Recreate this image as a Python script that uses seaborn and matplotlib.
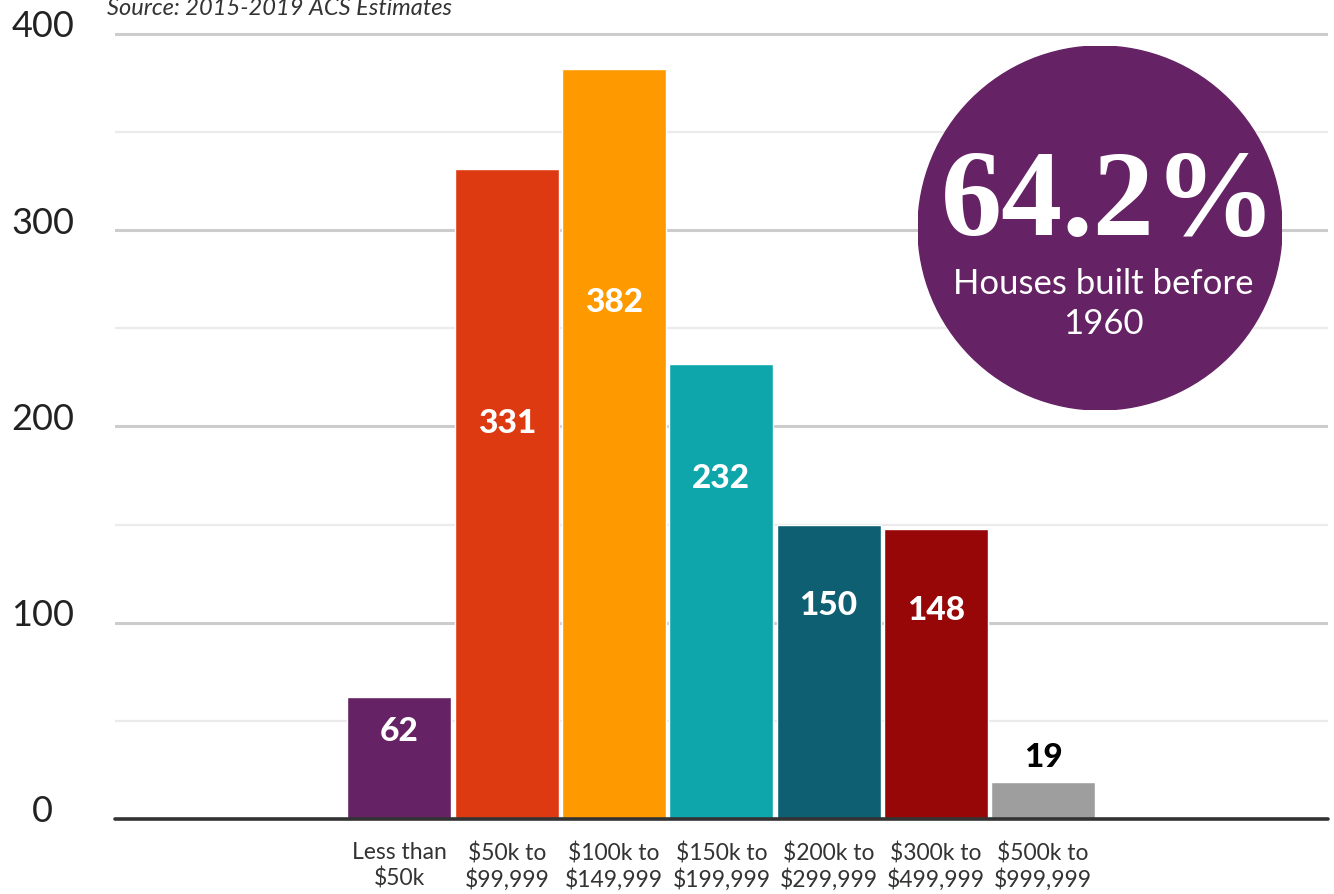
import matplotlib
matplotlib.use("Agg")
import matplotlib.pyplot as plt
import matplotlib.transforms as mtransforms
from matplotlib.patches import Circle
import pandas as pd
import seaborn as sns

# data
categories = ["Less than\n$50k", "$50k to\n$99,999", "$100k to\n$149,999",
              "$150k to\n$199,999", "$200k to\n$299,999", "$300k to\n$499,999",
              "$500k to\n$999,999"]
counts = [62, 331, 382, 232, 150, 148, 19]
bar_colors = ["#652264", "#de3a12", "#fe9a00", "#0ea6aa", "#0e5f72", "#970708", "#9e9e9e"]
y_ticks = [0, 100, 200, 300, 400]
y_minor = [50, 150, 250, 350]
source_note = "Source: 2015-2019 ACS Estimates"
highlight_value = "64.2%"
highlight_text = "Houses built before\n1960"

sns.set_theme(style="white")
plt.rcParams["font.family"] = ["Lato", "DejaVu Sans"]

df = pd.DataFrame({"range": categories, "count": counts})

W, H = 1334, 895
fig = plt.figure(figsize=(W / 100, H / 100), dpi=100)
# y=0 sits at pixel 820, y=400 at pixel 35
ax = fig.add_axes([115 / W, 75 / H, 1213 / W, (820 - 31) / H])

sns.barplot(data=df, x="range", y="count", hue="range", palette=bar_colors,
            width=0.97, saturation=1, legend=False, ax=ax)

ax.set_xlim(-2.651, 8.654)
ax.set_ylim(0, 402)
ax.set_xlabel("")
ax.set_ylabel("")
for s in ax.spines.values():
    s.set_visible(False)

ax.set_yticks(y_ticks)
ax.set_yticks(y_minor, minor=True)
ax.set_yticklabels([str(t) for t in y_ticks])
ax.set_axisbelow(True)
ax.yaxis.grid(True, which="major", color="#cccccc", lw=2.2)
ax.yaxis.grid(True, which="minor", color="#ebebeb", lw=1.6)
ax.tick_params(axis="y", which="both", length=0, pad=52, labelsize=26, labelcolor="#222222")
ax.tick_params(axis="x", length=0, pad=16, labelsize=16.5, labelcolor="#333333")
ax.axhline(0, color="#333333", lw=2.6, zorder=4, clip_on=False)

shift_up = mtransforms.ScaledTranslation(0, 11 / 100, fig.dpi_scale_trans)
for lab in ax.get_yticklabels():
    lab.set_horizontalalignment("center")
    lab.set_transform(lab.get_transform() + shift_up)
for lab in ax.get_xticklabels():
    lab.set_linespacing(1.22)

# value labels inside the bars (last one sits above its short bar)
label_frac = [0.73, 0.61, 0.69, 0.75, 0.73, 0.72]
for i, v in enumerate(counts):
    if i < len(label_frac):
        ax.text(i, v * label_frac[i], str(v), ha="center", va="center",
                fontsize=24, fontweight="black", color="white", zorder=5)
    else:
        ax.text(i, v + 13, str(v), ha="center", va="center",
                fontsize=24, fontweight="black", color="black", zorder=5)

fig.text(107 / W, 1 - 15 / H, source_note, ha="left", va="baseline",
         fontsize=17, style="italic", color="#333333")

# purple callout circle
cx, cy, r = 1100, 229, 182
cax = fig.add_axes([(cx - r) / W, (H - cy - r) / H, 2 * r / W, 2 * r / H])
cax.set_xlim(-1, 1)
cax.set_ylim(-1, 1)
cax.axis("off")
cax.add_patch(Circle((0, 0), 1, color="#652264"))
cax.text(0.05, -0.033, highlight_value, ha="center", va="baseline",
         family=["Liberation Serif", "DejaVu Serif"], fontweight="bold",
         fontsize=88, color="white")
cax.text(0.02, -0.41, highlight_text, ha="center", va="center",
         fontsize=25, color="white", linespacing=1.3)

fig.savefig("out.png", dpi=100)
